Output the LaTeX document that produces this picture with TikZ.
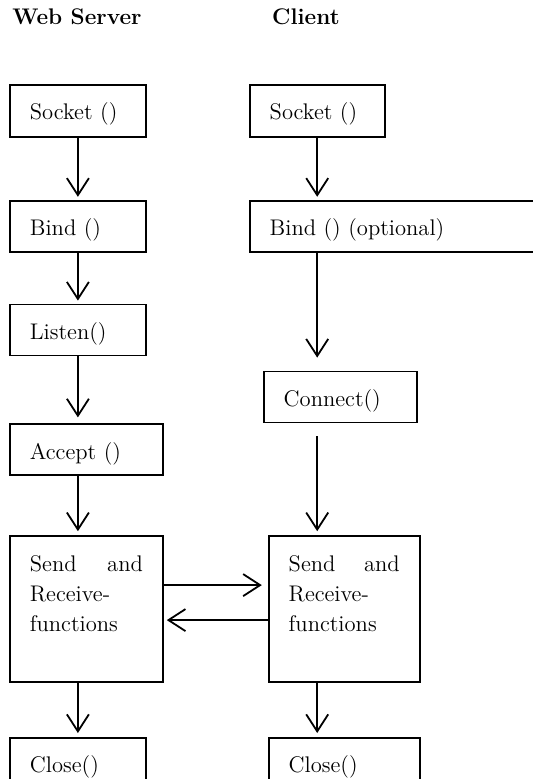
\documentclass[tikz,border=0pt]{standalone}
\usepackage{tikz}
\usetikzlibrary{arrows.meta, positioning}

\begin{document}
\begin{tikzpicture}[
    font=\fontsize{11.3}{15}\selectfont,
    fnbox/.style={draw, rectangle, line width=0.9pt, anchor=north west,
                  inner xsep=10pt, inner ysep=0pt, text height=17.5pt,
                  align=left},
    ttl/.style={font=\fontsize{11.3}{15}\selectfont\bfseries, inner sep=0pt},
    arw/.style={-{Straight Barb[length=8.5pt, width=11pt, line width=0.9pt]},
                line width=0.9pt}
  ]
    \useasboundingbox (0,0) rectangle (266pt,-389.5pt);

    % Web Server
    \node[fnbox, text width=48pt, text depth=8.5pt] (lsock) at (4.5pt,-42pt) {Socket ()};
    \node[fnbox, below=31pt of lsock.south west, anchor=north west,
          text width=48pt, text depth=8pt] (lbind) {Bind ()};
    \node[fnbox, below=25.5pt of lbind.south west, anchor=north west,
          text width=48pt, text depth=8pt] (llisten) {Listen()};
    \node[fnbox, below=33.5pt of llisten.south west, anchor=north west,
          text width=56.5pt, text depth=8pt] (lacc) {Accept ()};
    \node[fnbox, below=29.5pt of lacc.south west, anchor=north west,
          text width=56.5pt, text depth=55.5pt] (lsr) {Send\hfill and\\Receive-\\functions};
    \node[fnbox, below=27pt of lsr.south west, anchor=north west,
          text width=48pt, text depth=7.5pt] (lclose) {Close()};

    % Client
    \node[fnbox, right=51pt of lsock.north east, anchor=north west,
          text width=47.5pt, text depth=8.5pt] (rsock) {Socket ()};
    \node[fnbox, below=31pt of rsock.south west, anchor=north west,
          text width=128pt, text depth=8pt] (rbind) {Bind () (optional)};
    \node[fnbox, below=59pt of rbind.south west, anchor=north west, xshift=7pt,
          text width=56.5pt, text depth=8pt] (rconn) {Connect()};
    \node[fnbox, right=52pt of lsr.north east, anchor=north west,
          text width=55.5pt, text depth=55.5pt] (rsr) {Send\hfill and\\Receive-\\functions};
    \node[fnbox, below=27pt of rsr.south west, anchor=north west,
          text width=55.5pt, text depth=7.5pt] (rclose) {Close()};

    % Titel
    \node[ttl, above=29.5pt of lsock.north west, anchor=base west, xshift=1.5pt] (tsrv) {Web Server};
    \node[ttl, above=29.5pt of rsock.north west, anchor=base west, xshift=11.5pt] (tcli) {Client};

    % Pfeile
    \draw[arw, shorten >=1.5pt] (lsock) -- (lbind);
    \draw[arw, shorten >=1.5pt] (lbind) -- (llisten);
    \draw[arw, shorten >=3pt] (llisten) -- (llisten |- lacc.north);
    \draw[arw, shorten >=2pt] (lacc.south -| lsock) -- (lsr.north -| lsock);
    \draw[arw, shorten >=2pt] (lsr.south -| lclose) -- (lclose);

    \draw[arw, shorten >=1.5pt] (rsock) -- (rbind.north -| rsock);
    \draw[arw, shorten >=6.5pt] (rbind.south -| rsock) -- (rconn.north -| rsock);
    \draw[arw, shorten <=6.5pt, shorten >=2pt] (rconn.south -| rsock) -- (rsr.north -| rsock);
    \draw[arw, shorten >=2pt] (rsr.south -| rsock) -- (rclose.north -| rsock);

    \draw[arw, shorten >=3pt] ([yshift=12pt]lsr.east) -- ([yshift=12pt]rsr.west);
    \draw[arw, shorten >=1.5pt] ([yshift=-5.5pt]rsr.west) -- ([yshift=-5.5pt]lsr.east);
  \end{tikzpicture}
\end{document}
